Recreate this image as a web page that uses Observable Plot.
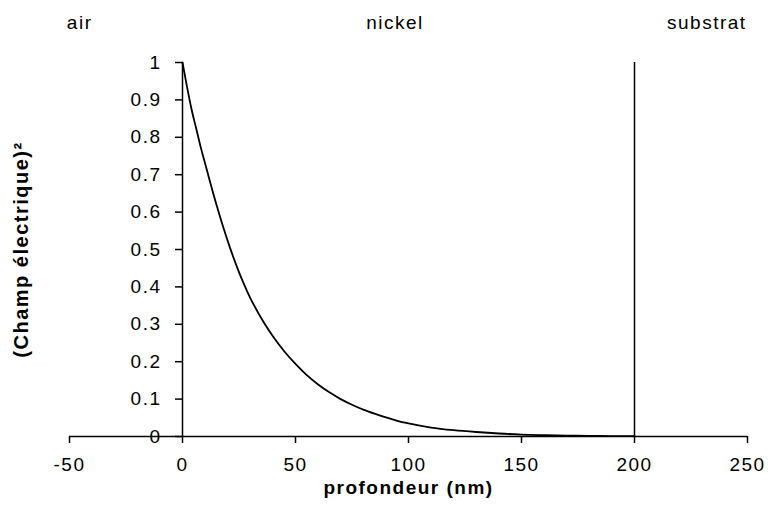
<!DOCTYPE html>
<html>
<head>
<meta charset="utf-8">
<script src="https://cdn.jsdelivr.net/npm/d3@7"></script>
<script src="https://cdn.jsdelivr.net/npm/@observablehq/plot@0.6"></script>
<style>
  html, body { margin: 0; padding: 0; background: #fff; }
  #chart svg { display: block; }
</style>
</head>
<body>
<div id="chart"></div>
<script>
// Depth (nm) and squared electric field
const depth = [0, 2, 4, 6, 8, 10, 12, 15, 18, 21, 24, 27, 30, 33, 36, 40, 45, 50, 55, 60, 65, 70, 75, 80, 85, 90, 95, 100, 110, 120, 130, 140, 150, 160, 170, 180, 190, 200];
const field2 = [1.0, 0.935, 0.875, 0.825, 0.775, 0.73, 0.685, 0.62, 0.56, 0.505, 0.455, 0.41, 0.37, 0.336, 0.305, 0.268, 0.228, 0.194, 0.164, 0.139, 0.118, 0.1, 0.085, 0.072, 0.061, 0.051, 0.042, 0.035, 0.024, 0.017, 0.012, 0.008, 0.005, 0.0035, 0.0025, 0.0018, 0.0012, 0.0008];

// Interface (nickel / substrat) position
const interfaceX = [200];
const axisX0 = [0];

// Region labels and their positions along depth
const regionNames = ["air", "nickel", "substrat"];
const regionX = [-45.5, 94, 232];

// Tick values
const xTicks = [-50, 0, 50, 100, 150, 200, 250];
const yTicks = [0, 0.1, 0.2, 0.3, 0.4, 0.5, 0.6, 0.7, 0.8, 0.9, 1];
const yTickLabels = ["0", "0.1", "0.2", "0.3", "0.4", "0.5", "0.6", "0.7", "0.8", "0.9", "1"];

const xLabel = "profondeur (nm)";
const yLabel = "(Champ électrique)²";

const W = 770, H = 512;
const mL = 69, mR = 23, mT = 62, mB = 76;
const pxPerUnit = (W - mL - mR) / (xTicks[xTicks.length - 1] - xTicks[0]);
const tickLen = 7 / pxPerUnit;

const curve = depth.map((d, i) => ({x: d, y: field2[i]}));
const regions = regionNames.map((n, i) => ({name: n, x: regionX[i]}));
const yt = yTicks.map((v, i) => ({v, label: yTickLabels[i]}));

const font = "'Liberation Sans', Arial, sans-serif";

const chart = Plot.plot({
  width: W,
  height: H,
  marginLeft: mL,
  marginRight: mR,
  marginTop: mT,
  marginBottom: mB,
  style: {fontFamily: font, background: "#fff", color: "#000", letterSpacing: "1.5px"},
  x: {domain: [-50, 250], ticks: xTicks},
  y: {domain: [0, 1], axis: null},
  marks: [
    // x axis line and ticks
    Plot.ruleY([0], {stroke: "#000", strokeWidth: 1.5}),
    Plot.axisX({ticks: xTicks, tickSize: 7, tickPadding: 14, tickFormat: d => String(d), fontSize: 19, stroke: "#000", strokeWidth: 1.5, label: null}),
    // y axis along x = 0
    Plot.ruleX(axisX0, {y1: 0, y2: 1, stroke: "#000", strokeWidth: 1.5}),
    Plot.ruleY(yt, {y: "v", x1: -tickLen, x2: 0, stroke: "#000", strokeWidth: 1.5}),
    Plot.text(yt, {x: 0, y: "v", text: "label", dx: -21, textAnchor: "end", fontSize: 19, fill: "#000"}),
    // interface line
    Plot.ruleX(interfaceX, {y1: 0, y2: 1, stroke: "#000", strokeWidth: 1.5}),
    // curve
    Plot.line(curve, {x: "x", y: "y", stroke: "#000", strokeWidth: 1.8, curve: "monotone-x"}),
    // region labels
    Plot.text(regions, {x: "x", text: "name", frameAnchor: "top", dy: -47, fontSize: 19, fill: "#000"}),
    // axis titles
    Plot.text([xLabel], {frameAnchor: "bottom", dy: 57, fontSize: 19, fontWeight: "bold", fill: "#000"}),
    Plot.text([yLabel], {frameAnchor: "left", textAnchor: "middle", dx: -48, rotate: -90, fontSize: 20, fontWeight: "bold", fill: "#000"})
  ]
});

document.getElementById("chart").appendChild(chart);
</script>
</body>
</html>
